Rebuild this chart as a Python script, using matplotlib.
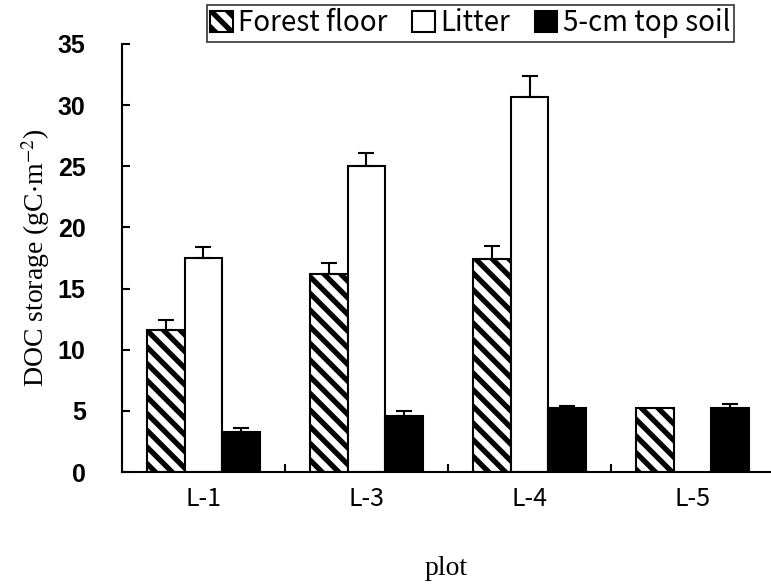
import matplotlib
matplotlib.use("Agg")
import matplotlib.pyplot as plt
import numpy as np

plots = ["L-1", "L-3", "L-4", "L-5"]
forest_floor = [11.6, 16.2, 17.4, 5.2]
forest_floor_err = [0.8, 0.9, 1.1, 0.0]
litter = [17.5, 25.0, 30.7, np.nan]
litter_err = [0.9, 1.1, 1.7, 0.0]
topsoil = [3.3, 4.6, 5.2, 5.2]
topsoil_err = [0.3, 0.4, 0.2, 0.4]
yticks = [0, 5, 10, 15, 20, 25, 30, 35]

plt.rcParams['hatch.linewidth'] = 3.8
plt.rcParams['mathtext.fontset'] = 'stix'
fig = plt.figure(figsize=(7.71, 5.86), dpi=100)
ax = fig.add_axes([0.158, 0.1945, 0.842, 0.7305])

x = np.arange(len(plots))
w = 0.23
ekw = dict(elinewidth=1.5, capthick=1.5, ecolor='black')
ax.bar(x - w, forest_floor, w, color='white', edgecolor='black', hatch='\\\\', linewidth=1.5,
       label='Forest floor')
ax.bar(x, litter, w, color='white', edgecolor='black', linewidth=1.5, label='Litter')
ax.bar(x + w, topsoil, w, color='black', edgecolor='black', linewidth=1.5, label='5-cm top soil')

for xs, vals, errs in [(x - w, forest_floor, forest_floor_err), (x, litter, litter_err),
                       (x + w, topsoil, topsoil_err)]:
    for xi, v, e in zip(xs, vals, errs):
        if e > 0 and not np.isnan(v):
            ax.errorbar(xi, v, yerr=[[0], [e]], fmt='none', capsize=6, **ekw)

ax.set_xlim(-0.5, 3.48)
ax.set_ylim(0, 35)
ax.set_yticks(yticks)
ax.set_yticklabels([str(t) for t in yticks], fontsize=18, fontweight='bold',
                   family=['Liberation Sans'])
ax.set_xticks(x)
ax.set_xticklabels(plots, fontsize=18, family=['Noto Sans CJK JP', 'DejaVu Sans'])
ax.set_xticks([0.5, 1.5, 2.5], minor=True)
ax.tick_params(axis='x', which='major', length=0, pad=10)
ax.tick_params(axis='x', which='minor', direction='in', length=6, width=1.5)
ax.tick_params(axis='y', direction='in', length=6, width=1.5, pad=26)

for s in ['top', 'right']:
    ax.spines[s].set_visible(False)
for s in ['left', 'bottom']:
    ax.spines[s].set_linewidth(1.5)

ax.set_ylabel('DOC storage (gC$\\cdot$m$^{-2}$)', fontsize=20, family='Liberation Serif', labelpad=4)
ax.set_xlabel('plot', fontsize=20, family='Liberation Serif', labelpad=32)

leg = fig.legend(loc='upper left', bbox_to_anchor=(207 / 771, 1 - 5 / 586), ncol=3,
                 prop={'family': ['Noto Sans CJK JP', 'DejaVu Sans'], 'size': 20},
                 frameon=True, fancybox=False, edgecolor='black', handlelength=0.8,
                 handleheight=0.8, handletextpad=0.2, columnspacing=0.9,
                 borderpad=0.12, borderaxespad=0)
leg.get_frame().set_linewidth(1.2)

fig.savefig('out.png', dpi=100)
